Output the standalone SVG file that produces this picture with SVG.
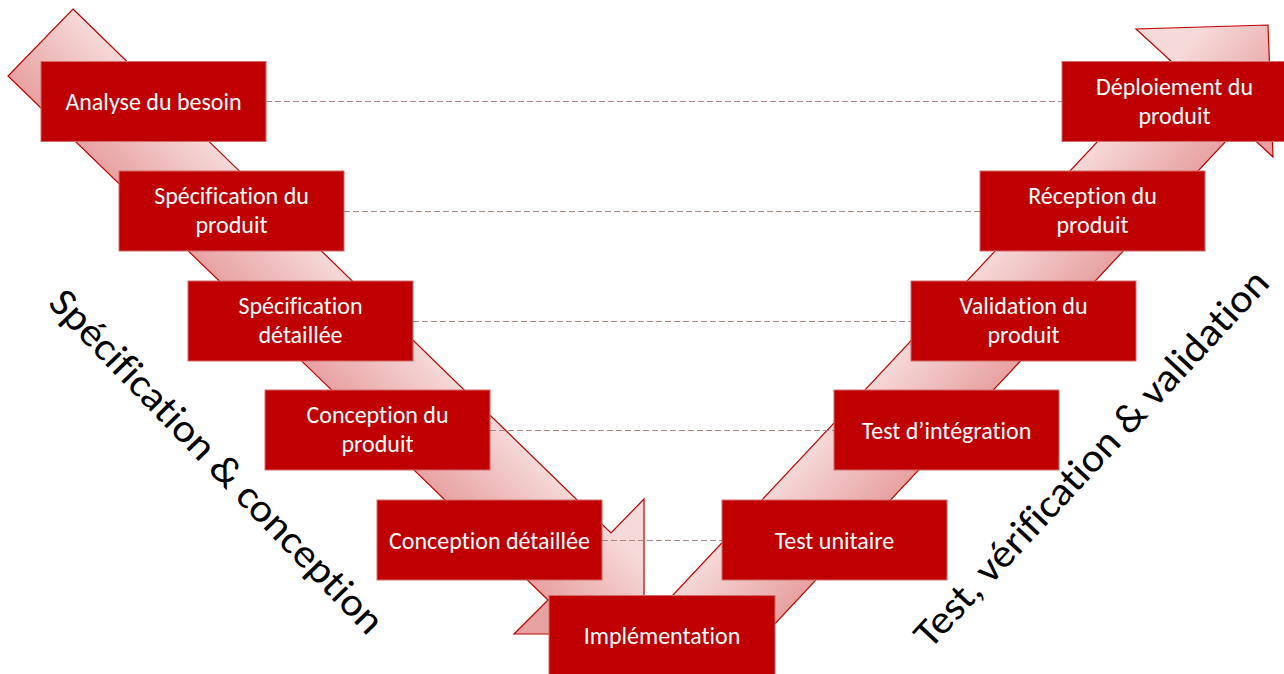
<svg xmlns="http://www.w3.org/2000/svg" width="1284" height="674" viewBox="0 0 1284 674">
<defs>
<linearGradient id="gL" gradientUnits="userSpaceOnUse" x1="8" y1="76" x2="73" y2="9">
<stop offset="0" stop-color="#e8a2a2"/>
<stop offset="1" stop-color="#f6d9d9"/>
</linearGradient>
<linearGradient id="gR" gradientUnits="userSpaceOnUse" x1="1172" y1="62" x2="1240" y2="126">
<stop offset="0" stop-color="#f6d9d9"/>
<stop offset="1" stop-color="#e8a2a2"/>
</linearGradient>
<style>
.arrow{stroke:#c00000;stroke-width:1.2;stroke-linejoin:miter}
.box{fill:#c00000;stroke:#d46a6a;stroke-width:1}
.t{fill:#ffffff;font-family:Calibri,Carlito,Lato,"Noto Sans",sans-serif;font-size:24px;text-anchor:middle;font-variant-ligatures:none;font-feature-settings:"liga" 0,"clig" 0}
.dash{stroke:#ad8585;stroke-width:1.2;stroke-dasharray:6 3;fill:none}
.side{fill:#000000;font-family:Calibri,Carlito,Lato,"Noto Sans",sans-serif;font-size:40px;text-anchor:middle;font-variant-ligatures:none;font-feature-settings:"liga" 0,"clig" 0}
</style>
</defs>
<g id="arrows">
<polygon id="arrow-down" class="arrow" fill="url(#gL)" points="73,9 611,533 644,499 644,634 514,634 548,600 8,76"/>
<polygon id="arrow-up" class="arrow" fill="url(#gR)" points="728,674 659,610 1172,62 1136,29 1268,25 1273,157 1240,126"/>
</g>
<g id="connectors">
<line class="dash" x1="266" y1="101.5" x2="1062" y2="101.5"/>
<line class="dash" x1="344" y1="211.5" x2="980" y2="211.5"/>
<line class="dash" x1="413" y1="321.5" x2="911" y2="321.5"/>
<line class="dash" x1="490" y1="430.5" x2="834" y2="430.5"/>
<line class="dash" x1="602" y1="540.5" x2="722" y2="540.5"/>
</g>
<g id="n1"><rect class="box" x="41" y="61.5" width="225" height="80"/><text class="t" x="153.5" y="110">Analyse du besoin</text></g>
<g id="n2"><rect class="box" x="119" y="171" width="225" height="80"/><text class="t" x="231.5" y="204">Spécification du</text><text class="t" x="231.5" y="233">produit</text></g>
<g id="n3"><rect class="box" x="188" y="281" width="225" height="80"/><text class="t" x="300.5" y="314">Spécification</text><text class="t" x="300.5" y="343">détaillée</text></g>
<g id="n4"><rect class="box" x="265" y="390" width="225" height="80"/><text class="t" x="377.5" y="423">Conception du</text><text class="t" x="377.5" y="452">produit</text></g>
<g id="n5"><rect class="box" x="377" y="500" width="225" height="80"/><text class="t" x="489.5" y="548.5">Conception détaillée</text></g>
<g id="n6"><rect class="box" x="549" y="595.5" width="226" height="80"/><text class="t" x="662" y="644">Implémentation</text></g>
<g id="n7"><rect class="box" x="722" y="500" width="225" height="80"/><text class="t" x="834.5" y="548.5">Test unitaire</text></g>
<g id="n8"><rect class="box" x="834" y="390" width="225" height="80"/><text class="t" x="946.5" y="438.5">Test d’intégration</text></g>
<g id="n9"><rect class="box" x="911" y="281" width="225" height="80"/><text class="t" x="1023.5" y="314">Validation du</text><text class="t" x="1023.5" y="343">produit</text></g>
<g id="n10"><rect class="box" x="980" y="171" width="225" height="80"/><text class="t" x="1092.5" y="204">Réception du</text><text class="t" x="1092.5" y="233">produit</text></g>
<g id="n11"><rect class="box" x="1062" y="61.5" width="225" height="80"/><text class="t" x="1174.5" y="95">Déploiement du</text><text class="t" x="1174.5" y="124">produit</text></g>
<g id="labels">
<text class="side" transform="translate(216,462) rotate(46)" y="12" textLength="462" lengthAdjust="spacingAndGlyphs">Spécification &amp; conception</text>
<text class="side" transform="translate(1092,459) rotate(-47)" y="12" textLength="500" lengthAdjust="spacingAndGlyphs">Test, vérification &amp; validation</text>
</g>
</svg>
